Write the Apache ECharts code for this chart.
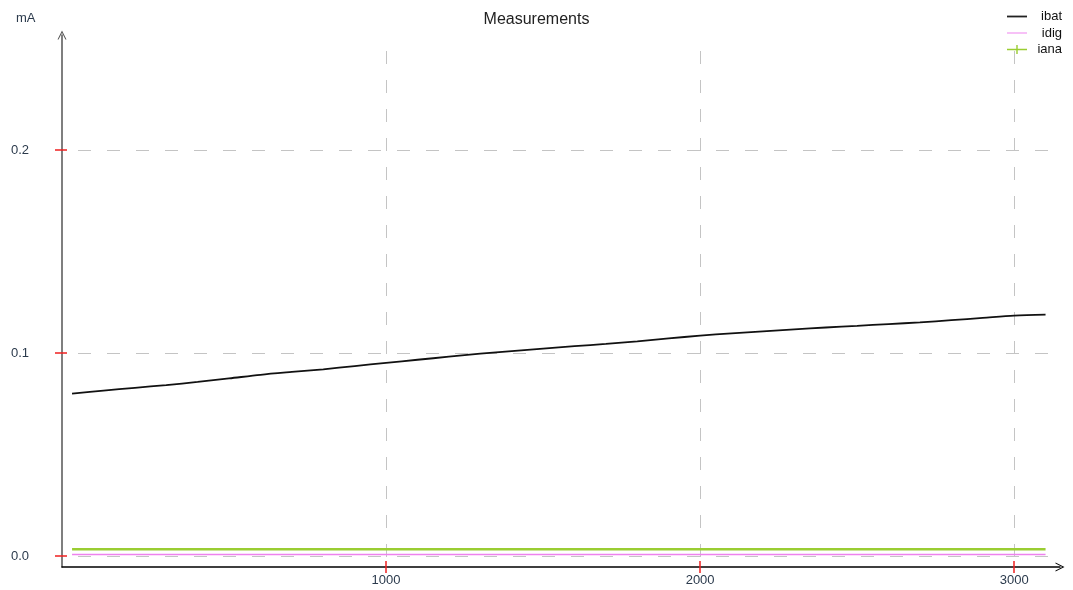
<!DOCTYPE html>
<html>
<head>
<meta charset="utf-8">
<title>Measurements</title>
<script src="https://cdn.jsdelivr.net/npm/echarts@6/dist/echarts.min.js"></script>
<style>
  html, body { margin: 0; padding: 0; background: #ffffff; }
  #chart { width: 1073px; height: 590px; }
</style>
</head>
<body>
<div id="chart"></div>
<script>
// Sample index (s) at which currents are listed
const sampleIndex = [0, 100, 200, 300, 400, 500, 600, 700, 800, 900, 1000, 1100, 1200, 1300, 1400, 1500,
  1600, 1700, 1800, 1900, 2000, 2100, 2200, 2300, 2400, 2500, 2600, 2700, 2800, 2900, 3000, 3100];

// Battery current (mA)
const ibat = [0.0800, 0.0815, 0.0829, 0.0842, 0.0858, 0.0875, 0.0893, 0.0907, 0.0920, 0.0936, 0.0952,
  0.0967, 0.0982, 0.0997, 0.1010, 0.1022, 0.1034, 0.1045, 0.1058, 0.1072, 0.1086, 0.1097, 0.1107,
  0.1117, 0.1126, 0.1134, 0.1143, 0.1151, 0.1162, 0.1173, 0.1184, 0.1189];

// Digital supply current (mA)
const idig = [0.0008, 0.0008, 0.0008, 0.0008, 0.0008, 0.0008, 0.0008, 0.0008, 0.0008, 0.0008, 0.0008,
  0.0008, 0.0008, 0.0008, 0.0008, 0.0008, 0.0008, 0.0008, 0.0008, 0.0008, 0.0008, 0.0008, 0.0008,
  0.0008, 0.0008, 0.0008, 0.0008, 0.0008, 0.0008, 0.0008, 0.0008, 0.0008];

// Analog supply current (mA)
const iana = [0.0033, 0.0033, 0.0033, 0.0033, 0.0033, 0.0033, 0.0033, 0.0033, 0.0033, 0.0033, 0.0033,
  0.0033, 0.0033, 0.0033, 0.0033, 0.0033, 0.0033, 0.0033, 0.0033, 0.0033, 0.0033, 0.0033, 0.0033,
  0.0033, 0.0033, 0.0033, 0.0033, 0.0033, 0.0033, 0.0033, 0.0033, 0.0033];

// Tick positions
const xTicks = [1000, 2000, 3000];
const yTicks = [0, 0.1, 0.2];

const pairs = (ys) => sampleIndex.map((x, i) => [x, ys[i]]);

const FONT = 'Arial, "Liberation Sans", sans-serif';
const X_MIN = -32, X_MAX = 3146;
const Y_MIN = -0.0054, Y_MAX = 0.2567;
const TICK_RED = '#f02020';
const LABEL_COLOR = '#2b3a4c';
const GRID_BOX = { left: 62, right: 13, top: 35, bottom: 23 };
const CHEVRON = 'path://M0,10 L5,0 L10,10 L8.8,10 L5,2.4 L1.2,10 Z';
// Legend keys drawn in a 20x14 box
const KEY_LINE = 'path://M0,6.1 L20,6.1 L20,7.9 L0,7.9 Z';
const KEY_THIN = 'path://M0,6.5 L20,6.5 L20,7.5 L0,7.5 Z';
const KEY_PLUS = 'path://M0,6.3 L9.3,6.3 L9.3,2.5 L10.7,2.5 L10.7,6.3 L20,6.3 L20,7.7 L10.7,7.7 L10.7,11.5 L9.3,11.5 L9.3,7.7 L0,7.7 Z';
const dashed = { show: true, lineStyle: { color: '#c4c4c4', width: 1, type: [13, 16], dashOffset: 13 } };

const chart = echarts.init(document.getElementById('chart'), null, { renderer: 'canvas' });

chart.setOption({
  animation: false,
  backgroundColor: '#ffffff',
  title: [
    { text: 'Measurements', left: 'center', top: 7,
      textStyle: { fontFamily: FONT, fontSize: 16, fontWeight: 'normal', color: '#222' } },
    { text: 'mA', left: 11, top: 7,
      textStyle: { fontFamily: FONT, fontSize: 13, fontWeight: 'normal', color: LABEL_COLOR } }
  ],
  legend: {
    orient: 'vertical', right: 6, top: 5,
    itemWidth: 20, itemHeight: 14, itemGap: 3.5,
    formatter: '{r|{name}}',
    textStyle: {
      fontFamily: FONT, fontSize: 13, color: '#111',
      rich: { r: { width: 30, align: 'right', fontFamily: FONT, fontSize: 13, color: '#111' } }
    },
    data: [
      { name: 'ibat', icon: KEY_LINE },
      { name: 'idig', icon: KEY_THIN },
      { name: 'iana', icon: KEY_PLUS }
    ]
  },
  grid: [
    Object.assign({ containLabel: false }, GRID_BOX),
    Object.assign({ containLabel: false }, GRID_BOX)
  ],
  xAxis: [
    {
      type: 'value', gridIndex: 0, min: X_MIN, max: X_MAX,
      axisLine: { show: true, onZero: false, symbol: ['none', CHEVRON], symbolSize: [9, 10],
        lineStyle: { color: '#000', width: 1.5 } },
      axisTick: { show: true, inside: false, length: 6, customValues: xTicks,
        lineStyle: { color: TICK_RED, width: 1.5 } },
      axisLabel: { show: true, margin: 7, customValues: xTicks,
        formatter: (v) => String(v),
        fontFamily: FONT, fontSize: 13, color: LABEL_COLOR },
      splitLine: dashed
    },
    {
      type: 'value', gridIndex: 1, min: X_MIN, max: X_MAX,
      axisLine: { show: false, onZero: false },
      axisTick: { show: true, inside: true, length: 6, customValues: xTicks,
        lineStyle: { color: TICK_RED, width: 1.5 } },
      axisLabel: { show: false },
      splitLine: { show: false }
    }
  ],
  yAxis: [
    {
      type: 'value', gridIndex: 0, min: Y_MIN, max: Y_MAX,
      axisLine: { show: true, onZero: false, symbol: ['none', CHEVRON], symbolSize: [9, 10],
        lineStyle: { color: '#555', width: 1.5 } },
      axisTick: { show: true, inside: false, length: 7, customValues: yTicks,
        lineStyle: { color: TICK_RED, width: 1.5 } },
      axisLabel: { show: true, margin: 33, customValues: yTicks,
        formatter: (v) => v.toFixed(1),
        fontFamily: FONT, fontSize: 13, color: LABEL_COLOR },
      splitLine: dashed
    },
    {
      type: 'value', gridIndex: 1, min: Y_MIN, max: Y_MAX,
      axisLine: { show: false, onZero: false },
      axisTick: { show: true, inside: true, length: 5, customValues: yTicks,
        lineStyle: { color: TICK_RED, width: 1.5 } },
      axisLabel: { show: false },
      splitLine: { show: false }
    }
  ],
  series: [
    {
      name: 'ibat', type: 'line', xAxisIndex: 0, yAxisIndex: 0,
      data: pairs(ibat), symbol: 'none', showSymbol: false, smooth: 0.3,
      lineStyle: { color: '#111', width: 1.8 }, itemStyle: { color: '#222' }
    },
    {
      name: 'idig', type: 'line', xAxisIndex: 0, yAxisIndex: 0,
      data: pairs(idig), symbol: 'none', showSymbol: false,
      lineStyle: { color: '#ee82ee', width: 1.5 }, itemStyle: { color: '#ee82ee' }
    },
    {
      name: 'iana', type: 'line', xAxisIndex: 0, yAxisIndex: 0,
      data: pairs(iana), symbol: 'none', showSymbol: false,
      lineStyle: { color: '#9acd32', width: 2.5 }, itemStyle: { color: '#9acd32' }
    }
  ]
});
</script>
</body>
</html>
